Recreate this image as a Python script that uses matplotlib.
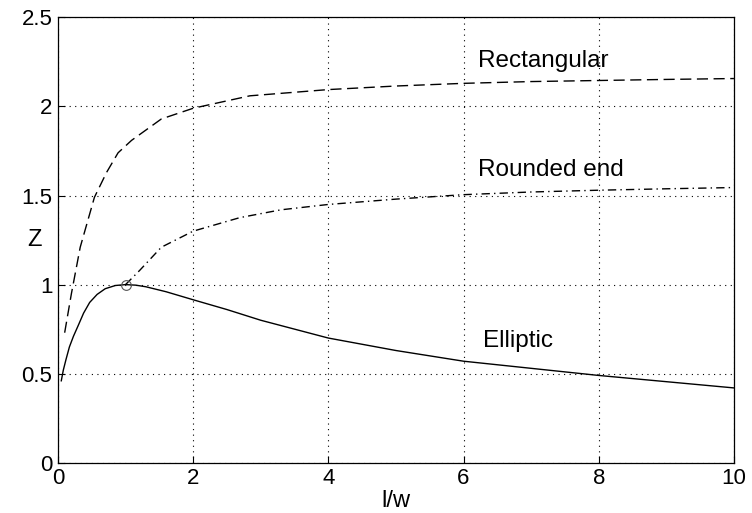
import matplotlib
matplotlib.use('Agg')
from matplotlib import pyplot as plt

plt.rcParams['font.family'] = ['Liberation Sans', 'DejaVu Sans']

# Elliptic (solid)
ell_x = [0.05, 0.08, 0.12, 0.17, 0.23, 0.3, 0.38, 0.47, 0.58, 0.7, 0.85, 1.0, 1.15, 1.3, 1.6, 2.0, 2.5, 3.0, 3.5, 4.0, 4.5, 5.0, 6.0, 7.0, 8.0, 9.0, 10.0]
ell_y = [0.46, 0.52, 0.58, 0.65, 0.71, 0.77, 0.84, 0.90, 0.945, 0.977, 0.995, 1.0, 0.997, 0.988, 0.96, 0.915, 0.86, 0.80, 0.75, 0.70, 0.665, 0.63, 0.57, 0.53, 0.49, 0.455, 0.42]

# Rectangular (dashed)
rect_x = [0.1, 0.2, 0.33, 0.54, 0.72, 0.89, 1.09, 1.31, 1.53, 2.0, 2.84, 4.0, 5.0, 6.0, 7.0, 8.0, 9.0, 10.0]
rect_y = [0.73, 0.95, 1.21, 1.49, 1.63, 1.74, 1.81, 1.87, 1.93, 1.99, 2.06, 2.095, 2.115, 2.13, 2.14, 2.146, 2.152, 2.157]

# Rounded end (dash-dot)
rnd_x = [1.0, 1.21, 1.53, 2.0, 2.69, 3.3, 4.0, 5.0, 6.0, 7.0, 8.0, 9.0, 10.0]
rnd_y = [1.0, 1.08, 1.21, 1.30, 1.376, 1.42, 1.45, 1.48, 1.505, 1.52, 1.53, 1.538, 1.545]

fig, ax = plt.subplots(figsize=(7.52, 5.13), dpi=100)
fig.subplots_adjust(left=0.077, right=0.976, top=0.966, bottom=0.098)

ax.plot(ell_x, ell_y, 'k-', lw=1.0)
ax.plot(rect_x, rect_y, color='k', lw=1.0, dashes=(8, 4))
ax.plot(rnd_x, rnd_y, color='k', lw=1.0, dashes=(6, 3, 1, 3))
ax.plot([1.0], [1.0], 'o', mfc='none', mec='#555555', ms=7, mew=0.8)

ax.text(6.21, 2.22, 'Rectangular', fontsize=17.5, va='baseline')
ax.text(6.21, 1.607, 'Rounded end', fontsize=17.5, va='baseline')
ax.text(6.29, 0.65, 'Elliptic', fontsize=17.5, va='baseline')

ax.set_xlim(0, 10)
ax.set_ylim(0, 2.5)
ax.set_xticks([0, 2, 4, 6, 8, 10])
ax.set_yticks([0, 0.5, 1, 1.5, 2, 2.5])
ax.set_xticklabels(['0', '2', '4', '6', '8', '10'])
ax.set_yticklabels(['0', '0.5', '1', '1.5', '2', '2.5'])
ax.tick_params(direction='in', labelsize=16, length=5, pad=4)
ax.grid(True, color='k', linestyle=(0, (1, 4)), lw=0.8)

ax.set_xlabel('l/w', fontsize=17, labelpad=0.5)
ax.set_ylabel('Z', fontsize=17, rotation=0, va='center', ha='center')
ax.yaxis.set_label_coords(-0.034, 0.5)

for s in ax.spines.values():
    s.set_linewidth(0.9)

plt.savefig('out.png', dpi=100)
